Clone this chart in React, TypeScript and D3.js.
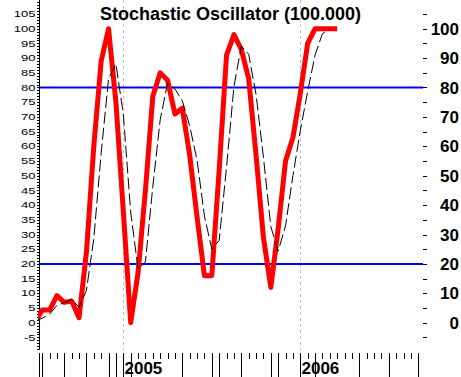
import React from "react";
import * as d3 from "d3";

const W = 461;
const H = 377;

// Half-month periods; first value (index -1) lies just left of the plot and is clipped
const firstIndex = -1;
// %K (red, thick)
const kValues = [
  0, 4.3, 4.3, 9.2, 6.9, 7.4, 1.7, 24, 60, 89, 100, 75, 38, 0, 17, 45, 77, 85, 82.5, 71,
  73, 57, 36, 16, 16, 52, 91, 98, 93, 83, 57, 29, 12, 32, 55, 63, 78, 95, 100, 100, 100, 100,
];
// %D (black, dashed)
const dValues = [
  0.5, 1.5, 2.9, 5.9, 6.8, 7.8, 5.3, 11, 28.6, 57.7, 83, 88, 71, 37.7, 18.3, 20.7, 46.3, 69,
  81.5, 79.5, 75.5, 67, 55.3, 36.3, 25, 28, 53, 80.3, 94, 91.3, 77.7, 56.3, 32.7, 24.3, 33,
  50, 65.3, 78.7, 91, 98.3, 100,
];

const leftTickValues = [-5, 0, 5, 10, 15, 20, 25, 30, 35, 40, 45, 50, 55, 60, 65, 70, 75, 80, 85, 90, 95, 100, 105];
const rightTickValues = [0, 10, 20, 30, 40, 50, 60, 70, 80, 90, 100];
const rightMinorValues = [-5, 5, 15, 25, 35, 45, 55, 65, 75, 85, 95, 105];
const yearLabels = ["2005", "2006"];
const yearIndex = [11, 35];
const periodTickCount = 52;
const longTickIdx = [0, 3, 6, 9, 10, 11, 12, 19, 23, 24, 27, 31, 32, 35, 37, 43, 47, 51];
const levelLines = [20, 80];
const title = "Stochastic Oscillator (100.000)";

const FONT = "'Liberation Sans', Arial, sans-serif";

export default function App() {
  const x = d3.scaleLinear().domain([11, 35]).range([123.3, 300.3]);
  const y = d3.scaleLinear().domain([0, 100]).range([322.7, 28.7]);

  const plotLeft = 39;
  const plotRight = 423;
  const axisBottom = 350;

  const kData = kValues.map((v, j) => ({ i: j + firstIndex, v }));
  const dData = dValues.map((v, j) => ({ i: j + firstIndex, v }));

  const line = d3
    .line<{ i: number; v: number }>()
    .x((d) => x(d.i))
    .y((d) => y(d.v));

  const crisp = (p: number) => Math.round(p) + 0.5;

  const leftMinor = d3.range(-9, 110, 1);
  const periodTicks = d3.range(0, periodTickCount);

  return (
    <svg
      width={W}
      height={H}
      style={{ position: "absolute", left: 0, top: 0, background: "#fff" }}
      fontFamily={FONT}
    >
      <defs>
        <clipPath id="plotClip">
          <rect x={plotLeft - 1} y={0} width={plotRight - plotLeft + 2} height={axisBottom} />
        </clipPath>
      </defs>
      <rect x={0} y={0} width={W} height={H} fill="#fff" />

      {/* year separators */}
      {yearIndex.map((idx, k) => (
        <line
          key={"yr" + k}
          x1={crisp(x(idx))}
          x2={crisp(x(idx))}
          y1={0}
          y2={axisBottom}
          stroke="#c0c0c0"
          strokeWidth={1}
          strokeDasharray="3,3"
        />
      ))}

      {/* level lines */}
      {levelLines.map((v) => (
        <line
          key={"lv" + v}
          x1={plotLeft}
          x2={plotRight}
          y1={y(v)}
          y2={y(v)}
          stroke="#0000ff"
          strokeWidth={2}
        />
      ))}

      {/* left axis */}
      <line x1={plotLeft + 0.5} x2={plotLeft + 0.5} y1={0} y2={axisBottom} stroke="#000" strokeWidth={1} />
      {leftMinor.map((v) => (
        <line
          key={"lm" + v}
          x1={plotLeft - 2}
          x2={plotLeft}
          y1={crisp(y(v))}
          y2={crisp(y(v))}
          stroke="#000"
          strokeWidth={1}
        />
      ))}
      {leftTickValues.map((v) => (
        <text
          key={"lt" + v}
          transform={`translate(35.5, ${y(v)}) scale(1.45, 1)`}
          textAnchor="end"
          dy="0.35em"
          fontSize={9}
          fill="#000"
        >
          {v}
        </text>
      ))}

      {/* right axis */}
      {[...rightTickValues, ...rightMinorValues].map((v) => (
        <line
          key={"rt" + v}
          x1={423}
          x2={427}
          y1={crisp(y(v))}
          y2={crisp(y(v))}
          stroke="#000"
          strokeWidth={1}
        />
      ))}
      {rightTickValues.map((v) => (
        <text
          key={"rl" + v}
          x={459}
          y={y(v)}
          dy="0.36em"
          textAnchor="end"
          fontSize={17}
          fontWeight="bold"
          fill="#000"
        >
          {v}
        </text>
      ))}

      {/* bottom ticks */}
      <line x1={plotLeft + 0.5} x2={plotLeft + 0.5} y1={353} y2={H} stroke="#000" strokeWidth={1} />
      {periodTicks.map((i) => {
        const long = longTickIdx.includes(i);
        return (
          <line
            key={"bt" + i}
            x1={crisp(x(i))}
            x2={crisp(x(i))}
            y1={353}
            y2={long ? H : 359}
            stroke="#000"
            strokeWidth={1}
          />
        );
      })}
      {yearLabels.map((lab, k) => (
        <text
          key={"yl" + k}
          x={x(yearIndex[k]) + 1.2}
          y={373.5}
          fontSize={17}
          fontWeight="bold"
          fill="#000"
        >
          {lab}
        </text>
      ))}

      {/* series */}
      <g clipPath="url(#plotClip)">
        <path
          d={line(kData) || ""}
          fill="none"
          stroke="#ff0000"
          strokeWidth={5}
          strokeLinejoin="round"
        />
        <path
          d={line(dData) || ""}
          fill="none"
          stroke="#000"
          strokeWidth={1}
          strokeDasharray="12,4"
        />
      </g>

      {/* title */}
      <text x={230.5} y={20} textAnchor="middle" fontSize={18} fontWeight="bold" fill="#000">
        {title}
      </text>
    </svg>
  );
}
